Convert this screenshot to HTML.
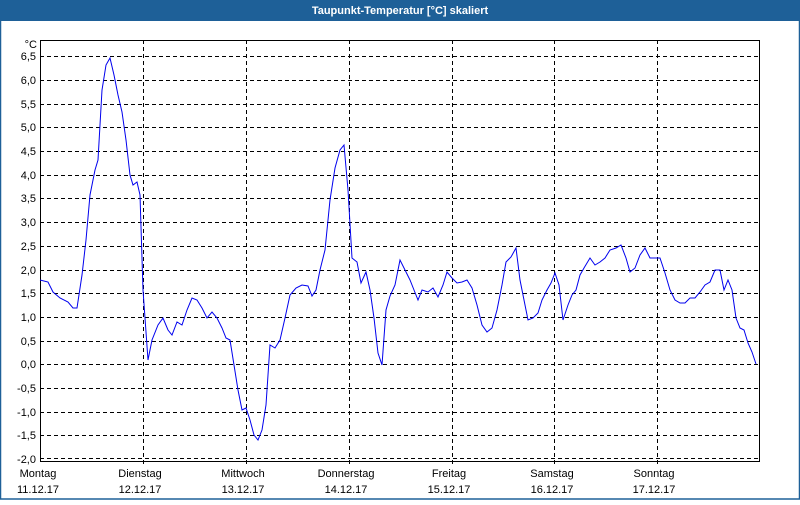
<!DOCTYPE html>
<html><head><meta charset="utf-8"><style>
body{margin:0;width:800px;height:500px;overflow:hidden;background:#fff;font-family:"Liberation Sans",sans-serif}
</style></head><body>
<svg width="800" height="500" xmlns="http://www.w3.org/2000/svg" font-family="Liberation Sans, sans-serif" font-size="11">
<rect x="0" y="0" width="800" height="500" fill="#fff"/>
<rect x="0" y="0" width="800" height="21" fill="#1e6098"/>
<rect x="0.5" y="20" width="799" height="479" fill="none" stroke="#1e6098" stroke-width="1.5"/>
<text x="400" y="14" text-anchor="middle" fill="#fff" font-weight="bold" font-size="11">Taupunkt-Temperatur [°C] skaliert</text>
<g stroke="#000" stroke-dasharray="4,3" stroke-width="1">
<line x1="40" x2="760" y1="56.5" y2="56.5"/><line x1="40" x2="760" y1="80.5" y2="80.5"/><line x1="40" x2="760" y1="104.5" y2="104.5"/><line x1="40" x2="760" y1="127.5" y2="127.5"/><line x1="40" x2="760" y1="151.5" y2="151.5"/><line x1="40" x2="760" y1="175.5" y2="175.5"/><line x1="40" x2="760" y1="198.5" y2="198.5"/><line x1="40" x2="760" y1="222.5" y2="222.5"/><line x1="40" x2="760" y1="246.5" y2="246.5"/><line x1="40" x2="760" y1="270.5" y2="270.5"/><line x1="40" x2="760" y1="293.5" y2="293.5"/><line x1="40" x2="760" y1="317.5" y2="317.5"/><line x1="40" x2="760" y1="341.5" y2="341.5"/><line x1="40" x2="760" y1="364.5" y2="364.5"/><line x1="40" x2="760" y1="388.5" y2="388.5"/><line x1="40" x2="760" y1="412.5" y2="412.5"/><line x1="40" x2="760" y1="435.5" y2="435.5"/><line x1="40" x2="760" y1="458.5" y2="458.5"/>
<line x1="143.5" x2="143.5" y1="40" y2="465"/><line x1="246.5" x2="246.5" y1="40" y2="465"/><line x1="349.5" x2="349.5" y1="40" y2="465"/><line x1="452.5" x2="452.5" y1="40" y2="465"/><line x1="554.5" x2="554.5" y1="40" y2="465"/><line x1="657.5" x2="657.5" y1="40" y2="465"/>
</g>
<path d="M40.5 40.5V461.5H759.5V40.5Z" fill="none" stroke="#000" stroke-width="1"/>
<g text-anchor="end" fill="#000">
<text x="37" y="48">°C</text>
<text x="36" y="60">6,5</text><text x="36" y="84">6,0</text><text x="36" y="108">5,5</text><text x="36" y="131">5,0</text><text x="36" y="155">4,5</text><text x="36" y="179">4,0</text><text x="36" y="202">3,5</text><text x="36" y="226">3,0</text><text x="36" y="250">2,5</text><text x="36" y="274">2,0</text><text x="36" y="297">1,5</text><text x="36" y="321">1,0</text><text x="36" y="345">0,5</text><text x="36" y="368">0,0</text><text x="36" y="392">-0,5</text><text x="36" y="416">-1,0</text><text x="36" y="439">-1,5</text><text x="36" y="463">-2,0</text>
</g>
<g text-anchor="middle" fill="#000">
<text x="38" y="477">Montag</text><text x="38" y="493">11.12.17</text>
<text x="140" y="477">Dienstag</text><text x="140" y="493">12.12.17</text>
<text x="243" y="477">Mittwoch</text><text x="243" y="493">13.12.17</text>
<text x="346" y="477">Donnerstag</text><text x="346" y="493">14.12.17</text>
<text x="449" y="477">Freitag</text><text x="449" y="493">15.12.17</text>
<text x="552" y="477">Samstag</text><text x="552" y="493">16.12.17</text>
<text x="654" y="477">Sonntag</text><text x="654" y="493">17.12.17</text>
</g>
<polyline fill="none" stroke="#0000ee" stroke-width="1" points="40,280 48,282 53,292 60,298 68,302 73,308 77,308 82,275 86,240 90,195 95,170 98,160 102,90 106,65 110,58 114,75 118,95 122,112 126,140 130,175 133,185 137,182 140,195 143,290 148,360 152,340 158,325 163,318 168,330 172,335 177,322 182,325 187,310 192,298 197,300 202,308 207,318 212,312 217,318 222,328 226,338 230,340 234,365 238,390 242,410 246,408 250,420 254,435 258,440 262,430 266,405 270,345 275,348 280,340 285,318 290,295 296,288 302,285 308,286 312,296 316,290 320,270 325,250 330,200 335,168 340,150 344,145 348,190 352,258 357,262 361,283 366,272 370,290 374,318 378,353 382,365 386,310 390,296 395,285 400,260 405,270 410,280 414,290 418,300 422,290 428,292 433,288 438,297 443,285 447,272 452,278 457,283 462,282 467,280 472,288 477,305 482,325 487,332 492,328 497,310 502,285 506,262 511,257 516,248 520,280 524,300 528,320 533,318 538,313 542,300 547,290 551,283 555,273 559,285 563,320 568,305 572,295 576,290 580,275 584,268 590,258 595,265 600,262 605,258 610,250 616,248 621,245 626,258 630,272 635,268 640,255 645,248 650,258 655,258 660,258 665,273 670,290 675,300 680,303 685,303 690,298 695,298 700,292 705,285 710,282 715,270 720,270 724,290 728,280 732,290 736,318 740,328 744,330 748,343 752,352 756,364"/>
</svg>
</body></html>
